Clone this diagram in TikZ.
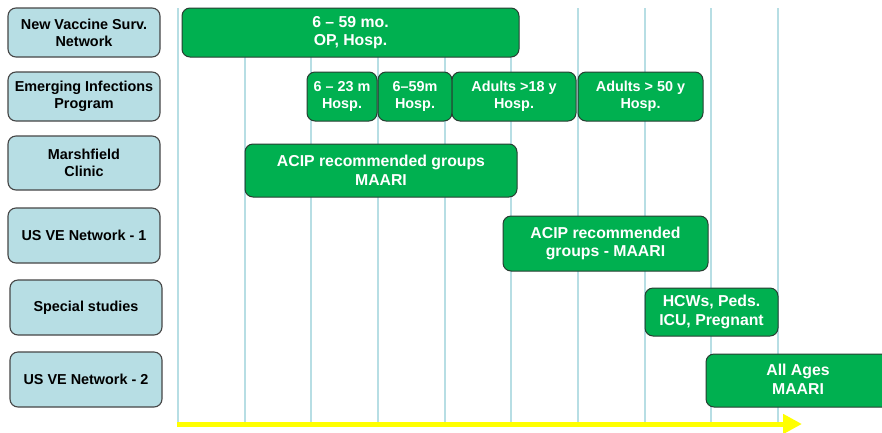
\documentclass[tikz,border=0pt]{standalone}
\usepackage{fontspec}
\setmainfont{Liberation Sans}
\usetikzlibrary{arrows.meta}
\definecolor{lblue}{RGB}{183,222,228}
\definecolor{vgreen}{RGB}{0,176,80}
\definecolor{gborder}{RGB}{40,62,50}
\definecolor{bborder}{RGB}{70,70,70}
\definecolor{ayellow}{RGB}{255,255,0}
\tikzset{
  lbox/.style={draw=bborder, line width=1.1pt, fill=lblue, rounded corners=8pt,
    inner sep=0pt, align=center, text=black,
    font=\fontsize{14.4}{17}\selectfont\bfseries},
  gbar/.style={draw=gborder, line width=1pt, fill=vgreen, rounded corners=8pt,
    inner sep=0pt, align=center, text=white,
    font=\fontsize{15.8}{18.5}\selectfont\bfseries},
  gsmall/.style={gbar, font=\fontsize{14.4}{16.5}\selectfont\bfseries},
  gridline/.style={draw=lblue, line width=2pt},
  timeline/.style={draw=ayellow, line width=5pt, -{Triangle[length=19pt,width=19pt]}}
}
\begin{document}
\begin{tikzpicture}[x=1pt,y=-1pt]
\clip (0,0) rectangle (882,432);
\fill[white] (0,0) rectangle (882,432);
% grid lines
\foreach \i in {0,...,9}{
  \draw[gridline] ({178+66.67*\i},8) -- ({178+66.67*\i},422);
}
% time arrow
\coordinate (t0) at (177,424);
\coordinate (t1) at (802,424);
\draw[timeline] (t0) -- (t1);
% left labels
\node[lbox, minimum width=152pt, minimum height=49pt] (n1) at (84,32.5) {New Vaccine Surv.\\Network};
\node[lbox, minimum width=152pt, minimum height=49pt] (n2) at (84,96.5) {Emerging Infections\\Program};
\node[lbox, minimum width=152pt, minimum height=54pt] (n3) at (84,163) {Marshfield\\Clinic};
\node[lbox, minimum width=152pt, minimum height=55pt] (n4) at (84,235.5) {US VE Network - 1};
\node[lbox, minimum width=152pt, minimum height=55pt] (n5) at (86,307.5) {Special studies};
\node[lbox, minimum width=152pt, minimum height=55pt] (n6) at (86,379.5) {US VE Network - 2};
% green bars
\node[gbar, minimum width=337pt, minimum height=49pt] (g1) at (350.5,32.5) {6 – 59 mo.\\OP, Hosp.};
\node[gsmall, minimum width=70pt, minimum height=49pt] (g21) at (342,96.5) {\raisebox{-2pt}{6 – 23 m}\\\raisebox{-2pt}{Hosp.}};
\node[gsmall, minimum width=74pt, minimum height=49pt] (g22) at (415,96.5) {6–59m\\Hosp.};
\node[gsmall, minimum width=124pt, minimum height=49pt] (g23) at (514,96.5) {Adults >18 y\\Hosp.};
\node[gsmall, minimum width=125pt, minimum height=49pt] (g24) at (640.5,96.5) {Adults > 50 y\\Hosp.};
\node[gbar, minimum width=272pt, minimum height=53pt] (g3) at (381,170.5) {ACIP recommended groups\\MAARI};
\node[gbar, minimum width=205pt, minimum height=55pt] (g4) at (605.5,243.5) {ACIP recommended\\groups - MAARI};
\node[gbar, minimum width=133pt, minimum height=48pt] (g5) at (711.5,312) {HCWs, Peds.\\ICU, Pregnant};
\node[gbar, minimum width=184pt, minimum height=53pt] (g6) at (798,380.5) {\raisebox{2pt}{All Ages}\\\raisebox{2pt}{MAARI}};
\end{tikzpicture}
\end{document}
